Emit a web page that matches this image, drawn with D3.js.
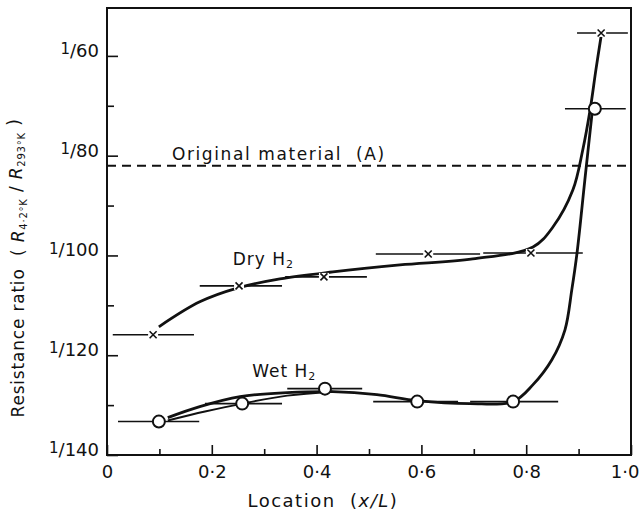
<!DOCTYPE html>
<html>
<head>
<meta charset="utf-8">
<script src="https://cdn.jsdelivr.net/npm/d3@7"></script>
<style>
  body { margin: 0; background: #fff; }
  svg text { font-family: "DejaVu Sans", sans-serif; fill: #111; }
  .frame { fill: none; stroke: #111; stroke-width: 2; }
  .axes path { display: none; }
  .axes line { stroke: #111; stroke-width: 1.6; }
  .curve { fill: none; stroke: #111; stroke-width: 2.8; }
  .ebar { stroke: #111; stroke-width: 1.6; }
  .orig { stroke: #111; stroke-width: 2; stroke-dasharray: 9 6; }
</style>
</head>
<body>
<div id="graph"></div>
<script>
// Tick values and labels
const xTicks = [0, 0.2, 0.4, 0.6, 0.8, 1.0];
const xMinor = [0.1, 0.3, 0.5, 0.7, 0.9];
const xTickLabels = ["0", "0·2", "0·4", "0·6", "0·8", "1·0"];
const yTicks = [60, 80, 100, 120, 140];
const yMinor = [70, 90, 110, 130];
const yTickLabels = ["60", "80", "100", "120", "140"];

// Original material level (denominator of ratio)
const origLevel = 82.0;

// Dry H2 measured points (x, 1/ratio) with horizontal extent
const dryX  = [0.088, 0.252, 0.414, 0.613, 0.809, 0.943];
const dryY  = [115.9, 106.1, 104.3, 99.7, 99.5, 55.4];
const dryLo = [0.011, 0.177, 0.340, 0.513, 0.718, 0.897];
const dryHi = [0.166, 0.334, 0.496, 0.712, 0.908, 0.994];

// Wet H2 measured points
const wetX  = [0.099, 0.258, 0.416, 0.592, 0.775, 0.931];
const wetY  = [133.3, 129.7, 126.7, 129.3, 129.3, 70.6];
const wetLo = [0.021, 0.187, 0.344, 0.508, 0.693, 0.874];
const wetHi = [0.176, 0.334, 0.487, 0.670, 0.861, 0.990];

// Hand-drawn fitted curves
const dryCurveX = [0.099, 0.177, 0.250, 0.330, 0.431, 0.559, 0.698, 0.813, 0.851, 0.889, 0.908, 0.922, 0.933, 0.943];
const dryCurveY = [114.3, 109.3, 106.5, 104.7, 103.3, 101.9, 100.7, 98.3, 94.3, 86.9, 78.8, 70.8, 62.8, 56.0];
const wetCurveX = [0.116, 0.177, 0.254, 0.344, 0.431, 0.515, 0.592, 0.693, 0.775, 0.813, 0.849, 0.874, 0.887, 0.897, 0.912, 0.926];
const wetCurveY = [132.5, 130.3, 128.3, 127.5, 127.3, 127.9, 129.1, 129.7, 129.3, 125.9, 120.9, 114.9, 106.9, 99.5, 84.8, 71.2];
const wetLowerX = [0.116, 0.187, 0.258, 0.344, 0.431];
const wetLowerY = [133.1, 131.3, 129.7, 128.1, 127.3];

// Set the dimensions and margins of the graph
const mt = 8, mr = 9, mb = 58, ml = 107;
const fWidth = 640, fHeight = 513;
const width = fWidth - ml - mr, height = fHeight - mt - mb;

let x = d3.scaleLinear().domain([0, 1.0]).range([0, width]);
let y = d3.scaleLinear().domain([50.4, 140]).range([0, height]);

let svg = d3.select("#graph").append("svg")
    .attr("width", fWidth)
    .attr("height", fHeight)
    .append("g")
    .attr("transform", `translate(${ml}, ${mt})`);

// Frame
svg.append("rect")
    .attr("class", "frame")
    .attr("width", width)
    .attr("height", height);

// Minor ticks (inward)
svg.append("g")
    .attr("class", "axes")
    .attr("transform", `translate(0, ${height})`)
    .call(d3.axisBottom(x).tickValues(xMinor).tickSize(-6).tickFormat(""));
svg.append("g")
    .attr("class", "axes")
    .call(d3.axisLeft(y).tickValues(yMinor).tickSize(-7).tickFormat(""));

// Major ticks
let xAxis = svg.append("g")
    .attr("class", "axes")
    .attr("transform", `translate(0, ${height})`)
    .call(d3.axisBottom(x).tickValues(xTicks).tickSize(-10).tickPadding(10)
        .tickFormat((d, i) => xTickLabels[i]));
xAxis.selectAll("text").style("font-size", "18px");
xAxis.selectAll(".tick text").filter(d => d === 1.0)
    .attr("text-anchor", "end").attr("x", 8);

let yAxis = svg.append("g")
    .attr("class", "axes")
    .call(d3.axisLeft(y).tickValues(yTicks).tickSize(-11).tickPadding(8)
        .tickFormat(""));
yAxis.selectAll(".tick text").each(function(d, i) {
    let t = d3.select(this).style("font-size", "18px");
    t.append("tspan").attr("dy", "-0.15em").style("font-size", "15px").text("1");
    t.append("tspan").attr("dy", "0.15em").text("/" + yTickLabels[i]);
});

// Original material dashed level
svg.append("line")
    .attr("class", "orig")
    .attr("x1", 0).attr("x2", width)
    .attr("y1", y(origLevel)).attr("y2", y(origLevel));
svg.append("text")
    .attr("x", x(0.124)).attr("y", y(origLevel) - 6)
    .style("font-size", "17px")
    .style("letter-spacing", "1.6px")
    .attr("xml:space", "preserve")
    .text("Original material  (A)");

// Curves
let line = d3.line()
    .x(d => x(d[0]))
    .y(d => y(d[1]))
    .curve(d3.curveCatmullRom.alpha(0.5));

svg.append("path").attr("class", "curve")
    .attr("d", line(d3.zip(dryCurveX, dryCurveY)));
svg.append("path").attr("class", "curve")
    .attr("d", line(d3.zip(wetCurveX, wetCurveY)));
svg.append("path").attr("class", "curve").style("stroke-width", 2)
    .attr("d", line(d3.zip(wetLowerX, wetLowerY)));

// Error bars
dryX.forEach((d, i) => {
    svg.append("line").attr("class", "ebar")
        .attr("x1", x(dryLo[i])).attr("x2", x(dryHi[i]))
        .attr("y1", y(dryY[i])).attr("y2", y(dryY[i]));
});
wetX.forEach((d, i) => {
    svg.append("line").attr("class", "ebar")
        .attr("x1", x(wetLo[i])).attr("x2", x(wetHi[i]))
        .attr("y1", y(wetY[i])).attr("y2", y(wetY[i]));
});

// Dry markers (crosses)
dryX.forEach((d, i) => {
    let cx = x(d), cy = y(dryY[i]);
    svg.append("rect").attr("x", cx - 5).attr("y", cy - 4).attr("width", 10).attr("height", 8)
        .attr("fill", "#fff");
    svg.append("path")
        .attr("d", `M${cx - 3.5},${cy - 3.5}L${cx + 3.5},${cy + 3.5}M${cx - 3.5},${cy + 3.5}L${cx + 3.5},${cy - 3.5}`)
        .attr("stroke", "#111").attr("stroke-width", 1.6);
});

// Wet markers (open circles)
svg.selectAll(".wet")
    .data(wetX)
    .enter().append("circle")
    .attr("cx", d => x(d))
    .attr("cy", (d, i) => y(wetY[i]))
    .attr("r", 6)
    .attr("fill", "#fff")
    .attr("stroke", "#111")
    .attr("stroke-width", 2);

// Curve labels
let dryLab = svg.append("text").attr("x", x(0.240)).attr("y", y(101.9))
    .style("font-size", "17px").style("letter-spacing", "1px");
dryLab.append("tspan").text("Dry H");
dryLab.append("tspan").attr("dy", "0.3em").style("font-size", "11px").text("2");

let wetLab = svg.append("text").attr("x", x(0.277)).attr("y", y(124.4))
    .style("font-size", "17px").style("letter-spacing", "1px");
wetLab.append("tspan").text("Wet H");
wetLab.append("tspan").attr("dy", "0.3em").style("font-size", "11px").text("2");

// X axis title
let xt = svg.append("text")
    .attr("x", x(0.412)).attr("y", height + 52)
    .attr("text-anchor", "middle")
    .attr("xml:space", "preserve")
    .style("font-size", "18px")
    .style("letter-spacing", "1.5px");
xt.append("tspan").text("Location  (");
xt.append("tspan").style("font-style", "italic").text("x/L");
xt.append("tspan").text(")");

// Y axis title
let yt = svg.append("text")
    .attr("transform", `translate(${-ml + 24}, ${y(102.5)}) rotate(-90)`)
    .attr("text-anchor", "middle")
    .attr("xml:space", "preserve")
    .style("font-size", "17px")
    .style("letter-spacing", "0.8px");
yt.append("tspan").text("Resistance ratio  ( ");
yt.append("tspan").style("font-style", "italic").text("R");
yt.append("tspan").attr("dy", "0.3em").style("font-size", "10px").text("4·2°K");
yt.append("tspan").attr("dy", "-0.3em").text(" / ");
yt.append("tspan").style("font-style", "italic").text("R");
yt.append("tspan").attr("dy", "0.3em").style("font-size", "10px").text("293°K");
yt.append("tspan").attr("dy", "-0.3em").text(" )");
</script>
</body>
</html>
